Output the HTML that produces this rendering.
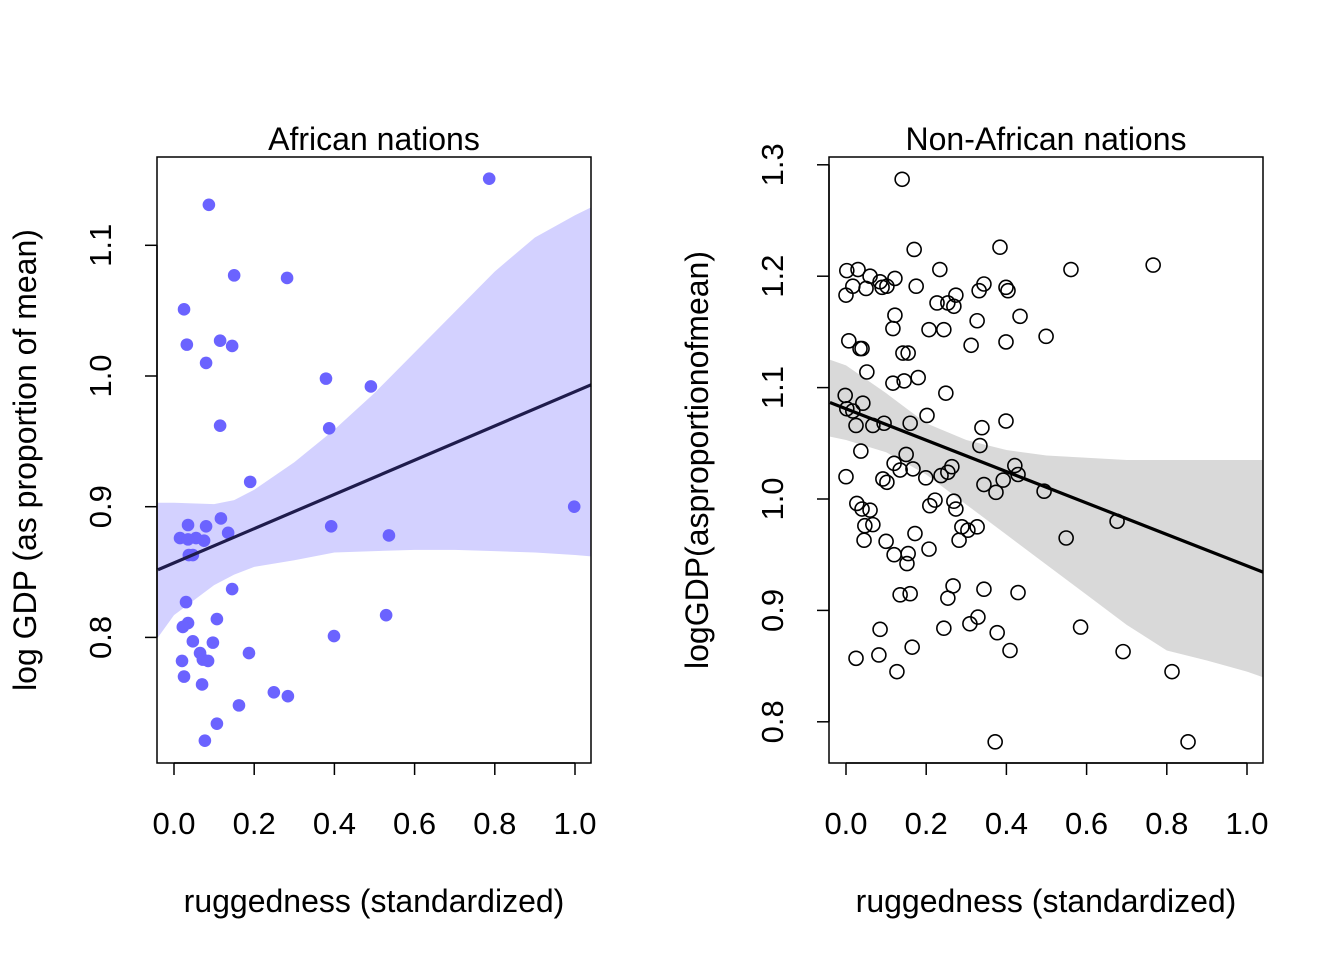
<!DOCTYPE html>
<html><head><meta charset="utf-8"><style>
html,body{margin:0;padding:0;background:#fff;}
svg{display:block;font-family:"Liberation Sans",Arial,sans-serif;}
</style></head><body>
<svg id="chart" width="1344" height="960" viewBox="0 0 1344 960"></svg>
<script>
// ---- Data: African nations ----
const afX = [0.087,0.786,0.025,0.150,0.282,0.032,0.145,0.115,0.080,0.379,0.491,0.115,0.387,0.190,0.998,0.117,0.035,0.080,0.392,0.135,0.536,0.015,0.055,0.075,0.035,0.037,0.047,0.145,0.030,0.035,0.107,0.022,0.529,0.399,0.047,0.097,0.065,0.072,0.020,0.085,0.187,0.025,0.070,0.249,0.284,0.162,0.107,0.077];
const afY = [1.131,1.151,1.051,1.077,1.075,1.024,1.023,1.027,1.010,0.998,0.992,0.962,0.960,0.919,0.900,0.891,0.886,0.885,0.885,0.880,0.878,0.876,0.876,0.874,0.875,0.863,0.863,0.837,0.827,0.811,0.814,0.808,0.817,0.801,0.797,0.796,0.788,0.783,0.782,0.782,0.788,0.770,0.764,0.758,0.755,0.748,0.734,0.721];
const afBandX = [-0.04,0,0.1,0.15,0.2,0.3,0.4,0.5,0.6,0.7,0.8,0.9,1.0,1.04];
const afBandHi = [0.903,0.903,0.902,0.905,0.913,0.934,0.959,0.987,1.018,1.049,1.080,1.106,1.123,1.129];
const afBandLo = [0.800,0.817,0.840,0.848,0.854,0.859,0.865,0.866,0.867,0.867,0.866,0.865,0.863,0.862];
const afCoef = [0.857, 0.131];
// ---- Data: Non-African nations ----
const naX = [0.140,0.384,0.170,0.561,0.766,0.002,0.030,0.234,0.060,0.085,0.122,0.102,0.017,0.050,0.175,0.090,0.399,0.404,0.344,0.274,0.000,0.227,0.254,0.269,0.332,0.434,0.122,0.327,0.117,0.207,0.244,0.312,0.499,0.399,0.007,0.035,0.040,0.142,0.155,0.180,0.052,0.117,0.145,0.249,-0.002,0.042,0.002,0.017,0.202,0.399,0.067,0.025,0.095,0.160,0.339,0.334,0.037,0.150,0.120,0.421,0.000,0.092,0.102,0.264,0.167,0.199,0.135,0.237,0.254,0.429,0.392,0.374,0.344,0.494,0.222,0.027,0.269,0.209,0.060,0.040,0.274,0.047,0.067,0.289,0.327,0.304,0.676,0.045,0.100,0.282,0.549,0.172,0.207,0.155,0.120,0.152,0.267,0.135,0.160,0.254,0.429,0.344,0.329,0.309,0.244,0.585,0.085,0.377,0.165,0.409,0.082,0.025,0.691,0.127,0.813,0.372,0.853];
const naY = [1.287,1.226,1.224,1.206,1.210,1.205,1.206,1.206,1.200,1.195,1.198,1.191,1.191,1.189,1.191,1.190,1.190,1.187,1.193,1.183,1.183,1.176,1.176,1.173,1.187,1.164,1.165,1.160,1.153,1.152,1.152,1.138,1.146,1.141,1.142,1.135,1.135,1.131,1.131,1.109,1.114,1.104,1.106,1.095,1.093,1.086,1.081,1.079,1.075,1.070,1.066,1.066,1.068,1.068,1.064,1.048,1.043,1.040,1.032,1.030,1.020,1.018,1.015,1.029,1.027,1.019,1.026,1.021,1.024,1.022,1.017,1.006,1.013,1.007,0.999,0.996,0.998,0.994,0.990,0.991,0.991,0.976,0.977,0.975,0.975,0.972,0.980,0.963,0.962,0.963,0.965,0.969,0.955,0.951,0.950,0.942,0.922,0.914,0.915,0.911,0.916,0.919,0.894,0.888,0.884,0.885,0.883,0.880,0.867,0.864,0.860,0.857,0.863,0.845,0.845,0.782,0.782];
const naBandX = [-0.04,0,0.1,0.2,0.3,0.4,0.5,0.6,0.7,0.8,0.9,1.0,1.04];
const naBandHi = [1.125,1.120,1.095,1.068,1.053,1.044,1.039,1.037,1.035,1.035,1.035,1.035,1.035];
const naBandLo = [1.056,1.053,1.042,1.022,0.995,0.968,0.941,0.914,0.887,0.864,0.855,0.845,0.840];
const naCoef = [1.081, -0.141];
const xTicks = [0,0.2,0.4,0.6,0.8,1.0];
const xTickLabels = ["0.0","0.2","0.4","0.6","0.8","1.0"];
const afYTicks = [0.8,0.9,1.0,1.1];
const afYTickLabels = ["0.8","0.9","1.0","1.1"];
const naYTicks = [0.8,0.9,1.0,1.1,1.2,1.3];
const naYTickLabels = ["0.8","0.9","1.0","1.1","1.2","1.3"];

const NS="http://www.w3.org/2000/svg";
const svg=document.getElementById('chart');
function mk(tag,attrs,parent){const e=document.createElementNS(NS,tag);for(const k in attrs)e.setAttribute(k,attrs[k]);(parent||svg).appendChild(e);return e;}

function panel(cfg){
  const g=mk('g',{});
  
  
  const sx=v=>cfg.x0+(v)*cfg.xs;
  const sy=v=>cfg.y0-(v-cfg.yref)*cfg.ys;
  let d='';
  cfg.bx.forEach((v,i)=>{d+=(i?'L':'M')+sx(v)+','+sy(cfg.bh[i]);});
  for(let i=cfg.bx.length-1;i>=0;i--)d+='L'+sx(cfg.bx[i])+','+sy(cfg.bl[i]);
  const band=mk('path',{d:d+'Z',fill:cfg.bandColor,stroke:'none'},g);
  
  
  const pg=mk('g',{},g);
  
  
  cfg.px.forEach((v,i)=>{
    const c=mk('circle',{cx:sx(v),cy:sy(cfg.py[i]),r:cfg.r,fill:cfg.pfill,stroke:cfg.pstroke,'stroke-width':1.6},pg);
    
    
  });
  const xa=-0.04,xb=1.04;
  const ln=mk('line',{x1:sx(xa),y1:sy(cfg.coef[0]+cfg.coef[1]*xa),x2:sx(xb),y2:sy(cfg.coef[0]+cfg.coef[1]*xb),stroke:cfg.lineColor,'stroke-width':3.2},g);
  
  
  const box=mk('rect',{x:cfg.bx0,y:157,width:434,height:606,fill:'none',stroke:'#000','stroke-width':1.5},g);
  
  
  const xa_g=mk('g',{},g);
  
  
  mk('line',{x1:sx(0),y1:763,x2:sx(1),y2:763,stroke:'#000','stroke-width':1.5},xa_g);
  xTicks.forEach((v,i)=>{
    mk('line',{x1:sx(v),y1:763,x2:sx(v),y2:775,stroke:'#000','stroke-width':1.5},xa_g);
    const t=mk('text',{x:sx(v),y:834,'font-size':31,'text-anchor':'middle'},xa_g);
    t.textContent=xTickLabels[i];
    
    
  });
  const ya=mk('g',{},g);
  
  
  const yt=cfg.yt;
  mk('line',{x1:cfg.bx0,y1:sy(yt[0]),x2:cfg.bx0,y2:sy(yt[yt.length-1]),stroke:'#000','stroke-width':1.5},ya);
  yt.forEach((v,i)=>{
    mk('line',{x1:cfg.bx0,y1:sy(v),x2:cfg.bx0-12,y2:sy(v),stroke:'#000','stroke-width':1.5},ya);
    const t=mk('text',{x:0,y:0,'font-size':31,'text-anchor':'middle',transform:`translate(${cfg.bx0-46},${sy(v)}) rotate(-90)`},ya);
    t.textContent=cfg.ytl[i];
    
    
  });
  const title=mk('text',{x:cfg.bx0+217,y:150,'font-size':32,'text-anchor':'middle'},g);
  title.textContent=cfg.title;
  
  
  const xt=mk('text',{x:cfg.bx0+217,y:912,'font-size':32,'text-anchor':'middle'},g);
  xt.textContent='ruggedness (standardized)';
  
  
  const ytt=mk('text',{x:0,y:0,'font-size':32,'text-anchor':'middle',transform:`translate(${cfg.bx0-121},460) rotate(-90)`},g);
  ytt.textContent=cfg.ytitle;
  
  
}
panel({name:'african-panel',bx0:157,x0:174,xs:401,y0:376,yref:1.0,ys:1307,bx:afBandX,bh:afBandHi,bl:afBandLo,px:afX,py:afY,r:6.3,pfill:'#6b63ff',pstroke:'none',bandColor:'#d3d1ff',lineColor:'#1f1c4c',coef:afCoef,yt:afYTicks,ytl:afYTickLabels,title:'African nations',ytitle:'log GDP (as proportion of mean)'});
panel({name:'non-african-panel',bx0:829,x0:846,xs:401,y0:499,yref:1.0,ys:1114,bx:naBandX,bh:naBandHi,bl:naBandLo,px:naX,py:naY,r:7,pfill:'none',pstroke:'#000',bandColor:'#d9d9d9',lineColor:'#000',coef:naCoef,yt:naYTicks,ytl:naYTickLabels,title:'Non-African nations',ytitle:'logGDP(asproportionofmean)'});
</script>
</body></html>
